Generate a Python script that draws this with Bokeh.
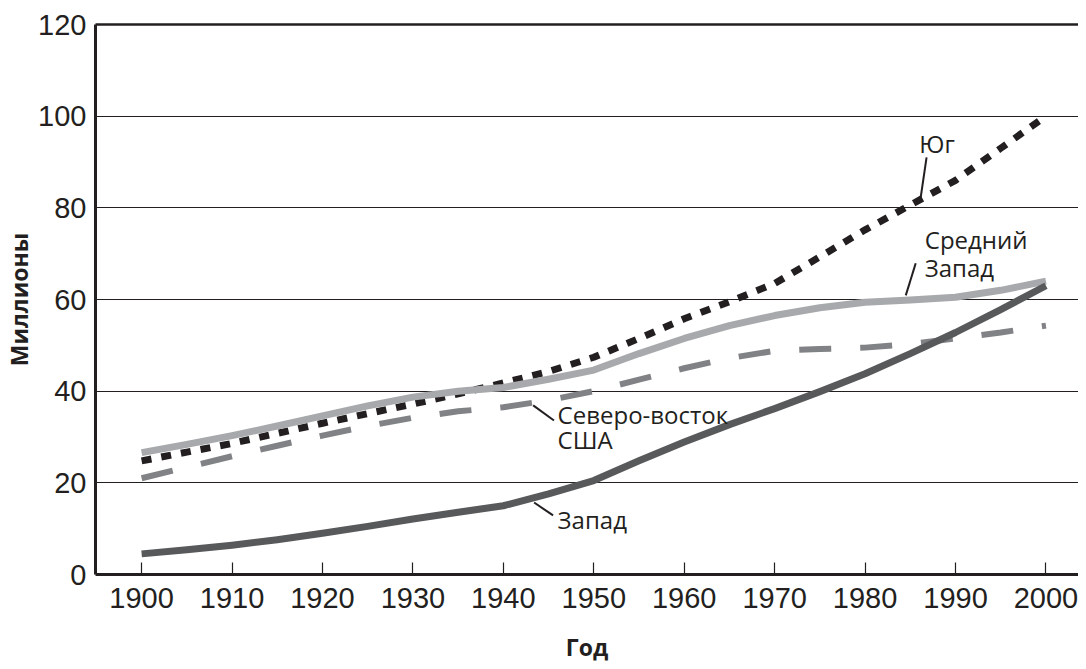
from bokeh.plotting import figure
from bokeh.models import Range1d, FixedTicker, LinearAxis, ColumnDataSource
from bokeh.core.properties import value
from bokeh.embed import file_html
from bokeh.resources import INLINE

# ---- data (millions), read every 5 years ----
years = [1900, 1905, 1910, 1915, 1920, 1925, 1930, 1935, 1940, 1945, 1950,
         1955, 1960, 1965, 1970, 1975, 1980, 1985, 1990, 1995, 2000]
south = [24.8, 26.7, 28.6, 30.8, 33.0, 35.1, 37.2, 39.4, 41.8, 44.3, 47.4,
         51.5, 55.8, 59.5, 63.5, 69.3, 75.2, 80.6, 86.0, 93.0, 100.0]
midwest = [26.6, 28.4, 30.3, 32.4, 34.6, 36.8, 38.7, 40.0, 40.8, 42.6, 44.6,
           48.2, 51.5, 54.3, 56.5, 58.2, 59.4, 59.9, 60.5, 62.0, 64.0]
northeast = [21.0, 23.4, 25.8, 28.1, 30.3, 32.4, 34.2, 35.6, 36.5, 38.0, 40.0,
             42.5, 45.0, 47.2, 48.8, 49.2, 49.5, 50.3, 51.5, 52.8, 54.3]
west = [4.5, 5.4, 6.4, 7.6, 9.0, 10.5, 12.1, 13.6, 15.0, 17.6, 20.5,
        24.8, 28.9, 32.7, 36.2, 39.9, 43.8, 48.2, 52.8, 57.8, 63.0]

x_ticks = [1900, 1910, 1920, 1930, 1940, 1950, 1960, 1970, 1980, 1990, 2000]
y_ticks = [0, 20, 40, 60, 80, 100, 120]

# annotation texts
ann_text = ["Юг", "Средний", "Запад", "Северо-восток", "США", "Запад"]
ann_x = [1986.0, 1986.6, 1986.6, 1946.0, 1946.0, 1946.0]
ann_y = [94.0, 73.2, 66.9, 35.0, 29.5, 11.9]

# leader lines
lead_x0 = [1986.8, 1985.6, 1943.3, 1943.4]
lead_y0 = [91.0, 67.9, 36.9, 15.7]
lead_x1 = [1986.1, 1984.5, 1945.6, 1945.5]
lead_y1 = [81.6, 60.9, 33.6, 12.9]

INK = "#231f20"

p = figure(width=1078, height=666, output_backend="svg", toolbar_location=None,
           x_range=Range1d(1894.9, 2003.6), y_range=Range1d(0, 120),
           min_border_left=88, min_border_right=0, min_border_top=24,
           min_border_bottom=92)
p.outline_line_color = None
p.background_fill_color = "white"
p.border_fill_color = "white"

# grid
p.xgrid.grid_line_color = None
p.ygrid.ticker = FixedTicker(ticks=y_ticks)
p.ygrid.grid_line_color = INK
p.ygrid.grid_line_width = 1.2
p.ygrid.grid_line_alpha = 1.0

# x axis
xa = p.xaxis[0]
xa.ticker = FixedTicker(ticks=x_ticks)
xa.axis_line_color = INK
xa.axis_line_width = 3
xa.major_tick_line_color = INK
xa.major_tick_line_width = 1.2
xa.major_tick_in = 12
xa.major_tick_out = 0
xa.minor_tick_line_color = None
xa.major_label_text_font = "Liberation Sans"
xa.major_label_text_font_size = "29px"
xa.major_label_text_color = INK
xa.major_label_standoff = 13
xa.axis_label = "Год"
xa.axis_label_text_font = "Open Sans"
xa.axis_label_text_font_style = "bold"
xa.axis_label_text_font_size = "23px"
xa.axis_label_text_color = INK
xa.axis_label_standoff = 20

# y axis
ya = p.yaxis[0]
ya.ticker = FixedTicker(ticks=y_ticks)
ya.axis_line_color = INK
ya.axis_line_width = 3
ya.major_tick_line_color = None
ya.minor_tick_line_color = None
ya.major_tick_in = 0
ya.major_tick_out = 0
ya.major_label_text_font = "Liberation Sans"
ya.major_label_text_font_size = "29px"
ya.major_label_text_color = INK
ya.major_label_standoff = 9
ya.axis_label = "Миллионы"
ya.axis_label_text_font = "Open Sans"
ya.axis_label_text_font_style = "bold"
ya.axis_label_text_font_size = "23px"
ya.axis_label_text_color = INK
ya.axis_label_standoff = 0

# top border as an unlabeled axis
top = LinearAxis(ticker=FixedTicker(ticks=[]), axis_line_color=INK, axis_line_width=2.5,
                 major_tick_line_color=None, minor_tick_line_color=None,
                 major_label_text_font_size="0px", major_tick_in=0, major_tick_out=0)
p.add_layout(top, "above")

# series
p.line(years, south, line_color=INK, line_width=7, line_dash="10 10")
p.line(years, northeast, line_color="#808285", line_width=6, line_dash="32 29")
p.line(years, midwest, line_color="#a7a9ac", line_width=7, line_join="round")
p.line(years, west, line_color="#58595b", line_width=7, line_join="round")

# leader lines
p.segment(x0=lead_x0, y0=lead_y0, x1=lead_x1, y1=lead_y1, line_color=INK, line_width=2)

# annotations
src = ColumnDataSource(dict(x=ann_x, y=ann_y, t=ann_text))
p.text(x="x", y="y", text="t", source=src, text_font=value("Open Sans"),
       text_font_size="24px", text_color=INK, text_align="left",
       text_baseline="middle")

open("out.html", "w").write(file_html(p, INLINE))
